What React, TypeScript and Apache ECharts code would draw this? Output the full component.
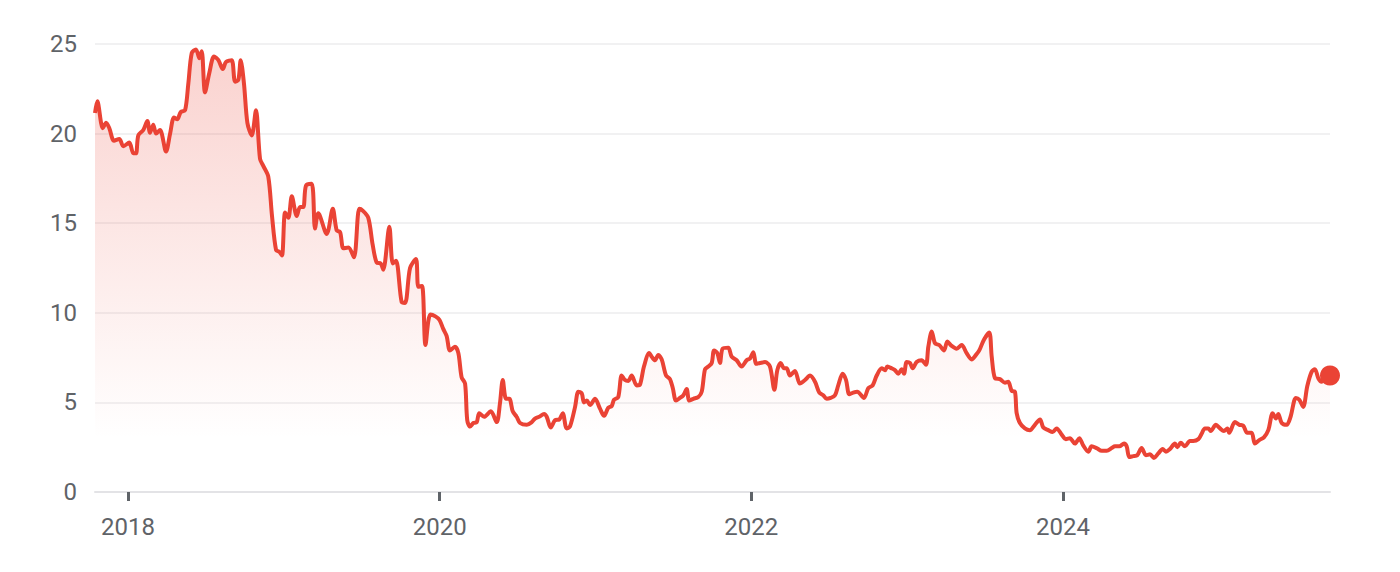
import React, { useEffect, useRef } from "react";
import * as echarts from "echarts";

// Decimal-year time stamps of each observation
const years: number[] = [
  2017.788, 2017.803, 2017.838, 2017.859, 2017.88, 2017.91, 2017.944, 2017.97, 2018.008, 2018.034,
  2018.051, 2018.066, 2018.098, 2018.124, 2018.141, 2018.162, 2018.18, 2018.205, 2018.244, 2018.27,
  2018.295, 2018.316, 2018.338, 2018.366, 2018.387, 2018.409, 2018.436, 2018.458, 2018.473, 2018.494,
  2018.522, 2018.552, 2018.58, 2018.608, 2018.629, 2018.665, 2018.687, 2018.708, 2018.723, 2018.744,
  2018.766, 2018.794, 2018.821, 2018.847, 2018.868, 2018.9, 2018.924, 2018.95, 2018.971, 2018.988,
  2019.008, 2019.029, 2019.051, 2019.083, 2019.104, 2019.125, 2019.142, 2019.179, 2019.2, 2019.221,
  2019.275, 2019.314, 2019.339, 2019.361, 2019.382, 2019.414, 2019.45, 2019.484, 2019.506, 2019.542,
  2019.57, 2019.596, 2019.622, 2019.638, 2019.677, 2019.699, 2019.72, 2019.756, 2019.778, 2019.81,
  2019.848, 2019.863, 2019.887, 2019.909, 2019.94, 2019.973, 2019.999, 2020.023, 2020.045, 2020.066,
  2020.098, 2020.12, 2020.141, 2020.163, 2020.177, 2020.195, 2020.216, 2020.238, 2020.254, 2020.285,
  2020.328, 2020.366, 2020.387, 2020.405, 2020.426, 2020.447, 2020.469, 2020.494, 2020.516, 2020.559,
  2020.591, 2020.612, 2020.639, 2020.67, 2020.687, 2020.713, 2020.74, 2020.768, 2020.79, 2020.815,
  2020.836, 2020.869, 2020.89, 2020.912, 2020.926, 2020.944, 2020.965, 2020.997, 2021.029, 2021.055,
  2021.082, 2021.104, 2021.119, 2021.146, 2021.168, 2021.189, 2021.211, 2021.232, 2021.265, 2021.286,
  2021.311, 2021.345, 2021.361, 2021.382, 2021.403, 2021.425, 2021.453, 2021.478, 2021.496, 2021.517,
  2021.542, 2021.564, 2021.585, 2021.602, 2021.628, 2021.66, 2021.682, 2021.703, 2021.724, 2021.746,
  2021.761, 2021.782, 2021.799, 2021.816, 2021.852, 2021.874, 2021.906, 2021.938, 2021.97, 2021.992,
  2022.013, 2022.032, 2022.056, 2022.088, 2022.12, 2022.148, 2022.167, 2022.189, 2022.21, 2022.227,
  2022.248, 2022.28, 2022.312, 2022.345, 2022.377, 2022.409, 2022.436, 2022.462, 2022.484, 2022.509,
  2022.537, 2022.558, 2022.586, 2022.608, 2022.629, 2022.654, 2022.68, 2022.723, 2022.751, 2022.779,
  2022.805, 2022.837, 2022.858, 2022.873, 2022.901, 2022.922, 2022.943, 2022.965, 2022.98, 2022.997,
  2023.018, 2023.036, 2023.061, 2023.093, 2023.121, 2023.136, 2023.158, 2023.179, 2023.206, 2023.237,
  2023.258, 2023.286, 2023.318, 2023.35, 2023.382, 2023.414, 2023.442, 2023.463, 2023.493, 2023.527,
  2023.543, 2023.564, 2023.596, 2023.628, 2023.649, 2023.671, 2023.692, 2023.703, 2023.724, 2023.756,
  2023.788, 2023.82, 2023.853, 2023.874, 2023.906, 2023.934, 2023.96, 2023.992, 2024.019, 2024.045,
  2024.077, 2024.105, 2024.13, 2024.163, 2024.184, 2024.216, 2024.249, 2024.281, 2024.313, 2024.334,
  2024.362, 2024.392, 2024.409, 2024.426, 2024.451, 2024.477, 2024.505, 2024.533, 2024.559, 2024.584,
  2024.612, 2024.64, 2024.661, 2024.687, 2024.719, 2024.734, 2024.756, 2024.783, 2024.815, 2024.836,
  2024.869, 2024.89, 2024.911, 2024.933, 2024.948, 2024.982, 2025.008, 2025.033, 2025.055, 2025.067,
  2025.104, 2025.132, 2025.157, 2025.183, 2025.211, 2025.232, 2025.26, 2025.29, 2025.318, 2025.346,
  2025.367, 2025.382, 2025.404, 2025.436, 2025.461, 2025.495, 2025.517, 2025.542, 2025.568, 2025.596,
  2025.617, 2025.639, 2025.66, 2025.682, 2025.714,
];

const prices: number[] = [
  21.15, 21.8, 20.3, 20.6, 20.3, 19.6, 19.7, 19.3, 19.5, 18.9,
  18.9, 19.9, 20.2, 20.7, 20.05, 20.5, 20.0, 20.2, 19.0, 20.0,
  20.9, 20.8, 21.2, 21.3, 22.8, 24.5, 24.7, 24.2, 24.6, 22.3,
  23.4, 24.3, 24.1, 23.6, 24.0, 24.1, 22.9, 23.0, 24.1, 22.8,
  20.6, 19.9, 21.3, 18.6, 18.2, 17.6, 15.4, 13.5, 13.4, 13.2,
  15.6, 15.3, 16.5, 15.4, 15.9, 15.9, 17.1, 17.2, 14.7, 15.55,
  14.4, 15.8, 14.6, 14.5, 13.6, 13.65, 13.1, 15.8, 15.7, 15.3,
  13.8, 12.8, 12.75, 12.4, 14.8, 12.75, 12.9, 10.6, 10.55, 12.5,
  13.0, 11.45, 11.5, 8.2, 9.9, 9.8, 9.6, 9.1, 8.7, 7.9,
  8.1, 7.75, 6.4, 6.05, 4.0, 3.65, 3.85, 3.9, 4.4, 4.2,
  4.5, 3.9, 4.95, 6.25, 5.2, 5.2, 4.5, 4.2, 3.85, 3.75,
  3.9, 4.1, 4.2, 4.35, 4.2, 3.6, 4.0, 4.05, 4.4, 3.55,
  3.65, 4.75, 5.6, 5.5, 5.0, 5.1, 4.85, 5.2, 4.65, 4.25,
  4.7, 4.8, 5.15, 5.3, 6.5, 6.25, 6.2, 6.5, 5.95, 6.0,
  7.0, 7.75, 7.55, 7.35, 7.65, 7.4, 6.5, 6.3, 5.8, 5.1,
  5.25, 5.4, 5.75, 5.1, 5.2, 5.3, 5.6, 6.85, 7.0, 7.2,
  7.9, 7.75, 7.2, 8.0, 8.05, 7.55, 7.35, 7.0, 7.35, 7.45,
  7.8, 7.15, 7.2, 7.25, 7.0, 5.7, 6.8, 7.2, 6.9, 6.9,
  6.5, 6.75, 6.05, 6.25, 6.5, 6.15, 5.55, 5.4, 5.2, 5.25,
  5.4, 5.95, 6.6, 6.25, 5.45, 5.55, 5.6, 5.25, 5.8, 5.95,
  6.5, 6.9, 6.8, 7.0, 6.9, 6.8, 6.6, 6.85, 6.6, 7.25,
  7.2, 6.9, 7.25, 7.35, 7.1, 8.1, 8.95, 8.3, 8.2, 7.9,
  8.4, 8.15, 8.0, 8.2, 7.75, 7.4, 7.65, 7.9, 8.5, 8.9,
  7.55, 6.35, 6.3, 6.1, 6.15, 5.65, 5.6, 4.4, 3.85, 3.55,
  3.45, 3.75, 4.05, 3.6, 3.45, 3.35, 3.55, 3.2, 2.95, 3.0,
  2.7, 3.0, 2.6, 2.25, 2.55, 2.45, 2.3, 2.3, 2.45, 2.55,
  2.55, 2.7, 2.55, 1.95, 2.0, 2.05, 2.45, 2.05, 2.1, 1.9,
  2.15, 2.4, 2.25, 2.4, 2.7, 2.5, 2.75, 2.55, 2.85, 2.85,
  2.95, 3.25, 3.55, 3.55, 3.4, 3.75, 3.55, 3.4, 3.55, 3.3,
  3.9, 3.75, 3.7, 3.3, 3.3, 2.7, 2.9, 3.05, 3.45, 4.4,
  4.1, 4.35, 3.85, 3.75, 4.2, 5.25, 5.15, 4.75, 5.9, 6.7,
  6.85, 6.35, 6.15, 6.5, 6.5,
];

const axisStart = 2017.788;
const axisEnd = 2025.714;
const tickYears: number[] = [2018, 2020, 2022, 2024];

const LINE = "#ea4335";
const TEXT = "#5f6368";

export default function App() {
  const ref = useRef<HTMLDivElement>(null);
  useEffect(() => {
    if (!ref.current) return;
    const chart = echarts.init(ref.current, undefined, { renderer: "svg" });
    const data = years.map((y, i) => [y, prices[i]]);
    const last = data[data.length - 1];
    chart.setOption({
      animation: false,
      grid: { left: 87, right: 62, top: 36, bottom: 72 },
      xAxis: {
        type: "value",
        min: axisStart,
        max: axisEnd,
        axisLine: { show: true, lineStyle: { color: "#e3e3e6", width: 2 } },
        axisTick: {
          show: true,
          customValues: tickYears,
          length: 9,
          lineStyle: { color: TEXT, width: 3 },
        },
        axisLabel: {
          customValues: tickYears,
          color: TEXT,
          fontSize: 24,
          fontFamily: "Roboto",
          margin: 23,
          formatter: (v: number) => String(Math.round(v)),
        },
        splitLine: { show: false },
      },
      yAxis: {
        type: "value",
        min: 0,
        max: 25,
        interval: 5,
        axisLine: { show: false },
        axisTick: { show: false },
        axisLabel: {
          color: TEXT,
          fontSize: 24,
          fontFamily: "Roboto",
          margin: 18,
        },
        splitLine: { lineStyle: { color: "#f1f1f2", width: 2 } },
      },
      series: [
        {
          type: "line",
          data,
          smooth: 0.3,
          showSymbol: false,
          lineStyle: { color: LINE, width: 4 },
          areaStyle: {
            color: new echarts.graphic.LinearGradient(0, 0, 0, 1, [
              { offset: 0, color: "rgba(234,67,53,0.34)" },
              { offset: 0.88, color: "rgba(234,67,53,0)" },
              { offset: 1, color: "rgba(234,67,53,0)" },
            ]),
          },
          z: 2,
        },
        {
          type: "scatter",
          data: [last],
          symbolSize: 20,
          itemStyle: { color: LINE, opacity: 1 },
          z: 3,
        },
      ],
    });
    return () => chart.dispose();
  }, []);
  return <div ref={ref} style={{ width: 1384, height: 556 }} />;
}
